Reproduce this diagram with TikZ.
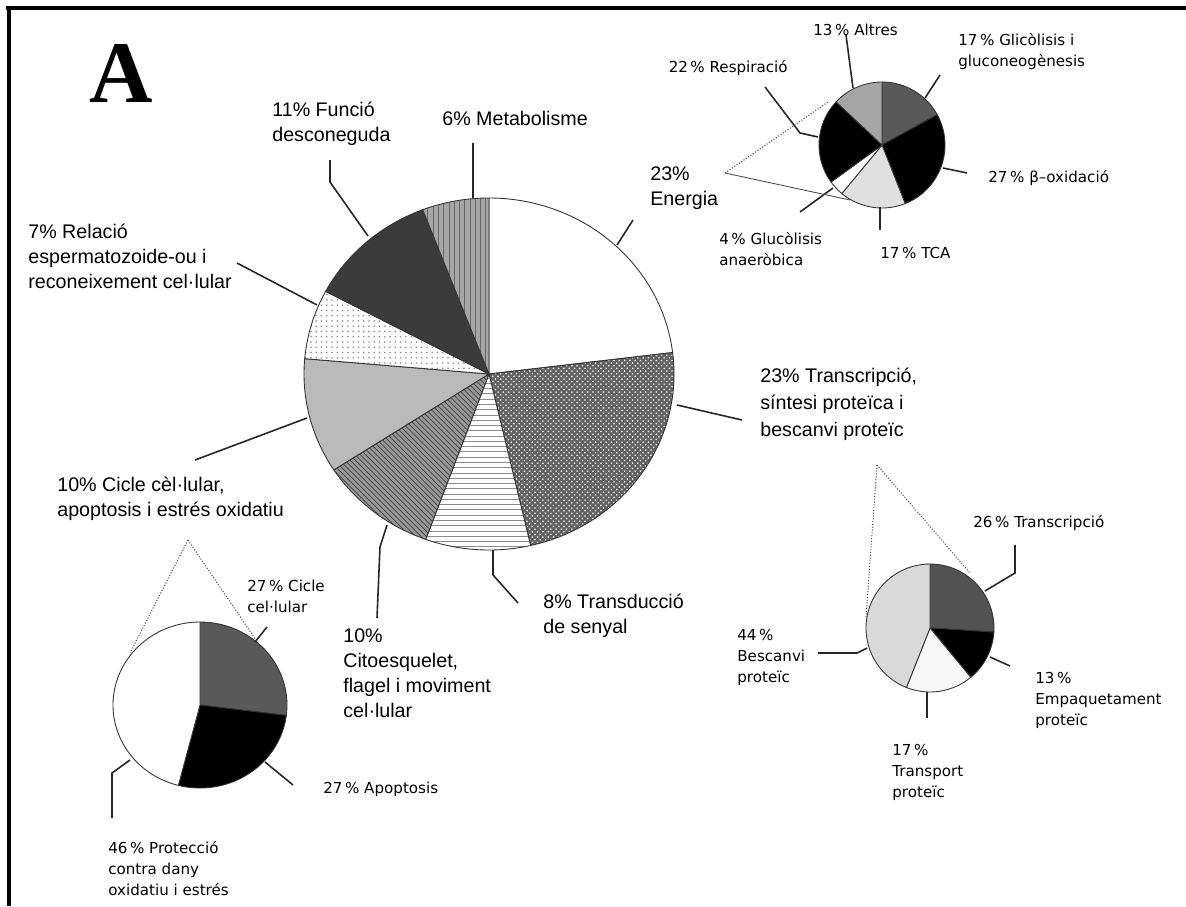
\documentclass[tikz,border=0pt]{standalone}
\usepackage{fontspec}
\setmainfont{Liberation Sans}
\newfontfamily\panelfont{Liberation Serif}
\newfontfamily\smallfont{DejaVu Sans}
\usetikzlibrary{patterns}

\begin{document}
\begin{tikzpicture}[x=0.02cm,y=0.02cm,
	lbl/.style={anchor=base west,inner sep=0pt,align=left,font=\fontsize{11.2}{14.2}\selectfont},
	slbl/.style={anchor=base west,inner sep=0pt,align=left,font=\smallfont\fontsize{8.6}{11.7}\selectfont},
	leader/.style={line width=0.9pt,black!85},
	zoomline/.style={line width=0.6pt,densely dotted,black!70},
	slice/.style={draw=black!80,line width=0.5pt}]
	\useasboundingbox (0,0) rectangle (1186,-906);
	% frame
	\draw[line width=1.8pt] (6,-8) -- (1186,-8);
	\draw[line width=2.2pt] (9,-7) -- (9,-906);
	\node[anchor=base west,inner sep=0pt,font=\panelfont\bfseries\fontsize{50}{50}\selectfont] (panel) at (89,-102) {A};

	% main pie
	\coordinate (C) at (489,-374);
	\draw[slice,fill=white] (C) -- ++(90:185 and 176) arc[start angle=90,end angle=7,x radius=185,y radius=176] -- cycle;
	\draw[slice,preaction={fill=black!62},pattern=crosshatch dots,pattern color=white]
		(C) -- ++(7:185 and 176) arc[start angle=7,end angle=-77,x radius=185,y radius=176] -- cycle;
	\draw[slice,preaction={fill=white},pattern=horizontal lines,pattern color=black!45]
		(C) -- ++(-77:185 and 176) arc[start angle=-77,end angle=-110,x radius=185,y radius=176] -- cycle;
	\draw[slice,preaction={fill=black!40},pattern=north west lines,pattern color=black!75]
		(C) -- ++(-110:185 and 176) arc[start angle=-110,end angle=-147,x radius=185,y radius=176] -- cycle;
	\draw[slice,fill=black!27] (C) -- ++(-147:185 and 176) arc[start angle=-147,end angle=-185,x radius=185,y radius=176] -- cycle;
	\draw[slice,preaction={fill=white},pattern=dots,pattern color=black!45]
		(C) -- ++(-185:185 and 176) arc[start angle=-185,end angle=-208,x radius=185,y radius=176] -- cycle;
	\draw[slice,fill=black!77] (C) -- ++(-208:185 and 176) arc[start angle=-208,end angle=-249,x radius=185,y radius=176] -- cycle;
	\draw[slice,preaction={fill=black!35},pattern=vertical lines,pattern color=black!60]
		(C) -- ++(-249:185 and 176) arc[start angle=-249,end angle=-270,x radius=185,y radius=176] -- cycle;

	% energy pie
	\coordinate (E) at (882,-145);
	\foreach \a/\b/\c in {90/28.8/black!65, 28.8/-68.4/black, -68.4/-129.6/black!12,
		-129.6/-144/white, -144/-223.2/black, -223.2/-270/black!35}
		\draw[slice,fill=\c] (E) -- ++(\a:63) arc[start angle=\a,end angle=\b,radius=63] -- cycle;

	% protein pie
	\coordinate (T) at (930,-628);
	\foreach \a/\b/\c in {90/-3.6/black!68, -3.6/-50.4/black, -50.4/-111.6/black!3, -111.6/-270/black!15}
		\draw[slice,fill=\c] (T) -- ++(\a:64) arc[start angle=\a,end angle=\b,radius=64] -- cycle;

	% cell cycle pie
	\coordinate (P) at (200,-705);
	\foreach \a/\b/\c in {90/-7.2/black!65, -7.2/-104.4/black, -104.4/-270/white}
		\draw[slice,fill=\c] (P) -- ++(\a:87 and 83) arc[start angle=\a,end angle=\b,x radius=87,y radius=83] -- cycle;

	% labels, main pie (anchored at the baseline of the last line)
	\node[lbl] (energia) at (650,-205) {23\%\\Energia};
	\node[lbl] (metab) at (442,-125) {6\% Metabolisme};
	\node[lbl] (funcio) at (272,-141) {11\% Funció\\desconeguda};
	\node[lbl] (relacio) at (28,-288) {7\% Relació\\espermatozoide-ou i\\reconeixement cel·lular};
	\node[lbl] (cicle) at (57,-516) {10\% Cicle cèl·lular,\\apoptosis i estrés oxidatiu};
	\node[lbl] (citoesq) at (343,-717) {10\%\\Citoesquelet,\\flagel i moviment\\cel·lular};
	\node[lbl] (transd) at (543,-633) {8\% Transducció\\de senyal};
	\node[lbl,font=\fontsize{11.2}{15.3}\selectfont] (transc) at (760,-436) {23\% Transcripció,\\síntesi proteïca i\\bescanvi proteïc};

	% labels, small pies
	\node[slbl] (altres) at (813,-35) {13\,\% Altres};
	\node[slbl] (glico) at (958,-66) {17\,\% Glicòlisis i\\gluconeogènesis};
	\node[slbl,anchor=base east] (resp) at (788,-72) {22\,\% Respiració};
	\node[slbl] (betaox) at (988,-182) {27\,\% β–oxidació};
	\node[slbl] (tca) at (880,-258) {17\,\% TCA};
	\node[slbl] (anaer) at (719,-265) {4\,\% Glucòlisis\\anaeròbica};
	\node[slbl] (transcr) at (973,-527) {26\,\% Transcripció};
	\node[slbl] (empaq) at (1035,-725) {13\,\%\\Empaquetament\\proteïc};
	\node[slbl] (transp) at (892,-797) {17\,\%\\Transport\\proteïc};
	\node[slbl] (bescanvi) at (737,-682) {44\,\%\\Bescanvi\\proteïc};
	\node[slbl] (cicleb) at (247,-612) {27\,\% Cicle\\cel·lular};
	\node[slbl] (apopt) at (323,-793) {27\,\% Apoptosis};
	\node[slbl] (protec) at (108,-895) {46\,\% Protecció\\contra dany\\oxidatiu i estrés};

	% leader ends
	\coordinate (energia-in) at (617,-245);  \coordinate (energia-out) at (633,-220);
	\coordinate (metab-in) at (473,-198);    \coordinate (metab-out) at (473,-143);
	\coordinate (funcio-in) at (368,-236);   \coordinate (funcio-out) at (330,-160);
	\coordinate (relacio-in) at (317,-305);  \coordinate (relacio-out) at (237,-263);
	\coordinate (cicle-in) at (307,-418);    \coordinate (cicle-out) at (195,-460);
	\coordinate (citoesq-in) at (387,-525);  \coordinate (citoesq-out) at (377,-618);
	\coordinate (transd-in) at (493,-550);   \coordinate (transd-out) at (518,-603);
	\coordinate (transc-in) at (677,-405);   \coordinate (transc-out) at (742,-420);
	\coordinate (altres-in) at (853,-88);    \coordinate (altres-out) at (846,-35);
	\coordinate (glico-in) at (925,-98);     \coordinate (glico-out) at (940,-75);
	\coordinate (resp-in) at (818,-137);     \coordinate (resp-out) at (765,-87);
	\coordinate (betaox-in) at (943,-168);   \coordinate (betaox-out) at (967,-173);
	\coordinate (tca-in) at (880,-207);      \coordinate (tca-out) at (880,-230);
	\coordinate (anaer-in) at (833,-188);    \coordinate (anaer-out) at (800,-212);
	\coordinate (transcr-in) at (985,-591);  \coordinate (transcr-out) at (1015,-545);
	\coordinate (empaq-in) at (990,-657);    \coordinate (empaq-out) at (1010,-666);
	\coordinate (transp-in) at (927,-692);   \coordinate (transp-out) at (927,-718);
	\coordinate (bescanvi-in) at (867,-648); \coordinate (bescanvi-out) at (818,-653);
	\coordinate (cicleb-in) at (255,-642);   \coordinate (cicleb-out) at (267,-627);
	\coordinate (apopt-in) at (265,-762);    \coordinate (apopt-out) at (293,-785);
	\coordinate (protec-in) at (130,-760);   \coordinate (protec-out) at (112,-818);

	% leaders
	\draw[leader] (energia-in) -- (energia-out);
	\draw[leader] (metab-in) -- (metab-out);
	\draw[leader] (funcio-in) -- (330,-182) -- (funcio-out);
	\draw[leader] (relacio-in) -- (relacio-out);
	\draw[leader] (cicle-in) -- (cicle-out);
	\draw[leader] (citoesq-in) -- (380,-547) -- (citoesq-out);
	\draw[leader] (transd-in) -- (493,-575) -- (transd-out);
	\draw[leader] (transc-in) -- (transc-out);
	\draw[leader] (altres-in) -- (altres-out);
	\draw[leader] (glico-in) -- (glico-out);
	\draw[leader] (resp-in) -- (800,-133) -- (resp-out);
	\draw[leader] (betaox-in) -- (betaox-out);
	\draw[leader] (tca-in) -- (tca-out);
	\draw[leader] (anaer-in) -- (anaer-out);
	\draw[leader] (transcr-in) -- (1015,-573) -- (transcr-out);
	\draw[leader] (empaq-in) -- (empaq-out);
	\draw[leader] (transp-in) -- (transp-out);
	\draw[leader] (bescanvi-in) -- (857,-653) -- (bescanvi-out);
	\draw[leader] (cicleb-in) -- (cicleb-out);
	\draw[leader] (apopt-in) -- (apopt-out);
	\draw[leader] (protec-in) -- (112,-773) -- (protec-out);

	% zoom lines
	\coordinate (energia-apex) at (725,-173);
	\coordinate (transc-apex) at (877,-465);
	\coordinate (cicle-apex) at (188,-540);
	\draw[zoomline] (energia-apex) -- (828,-102);
	\draw[zoomline,solid,line width=0.5pt] (energia-apex) -- (850,-200);
	\draw[zoomline] (transc-apex) -- (866,-617);
	\draw[zoomline] (transc-apex) -- (970,-573);
	\draw[zoomline] (cicle-apex) -- (130,-653);
	\draw[zoomline] (cicle-apex) -- (260,-646);
\end{tikzpicture}
\end{document}
